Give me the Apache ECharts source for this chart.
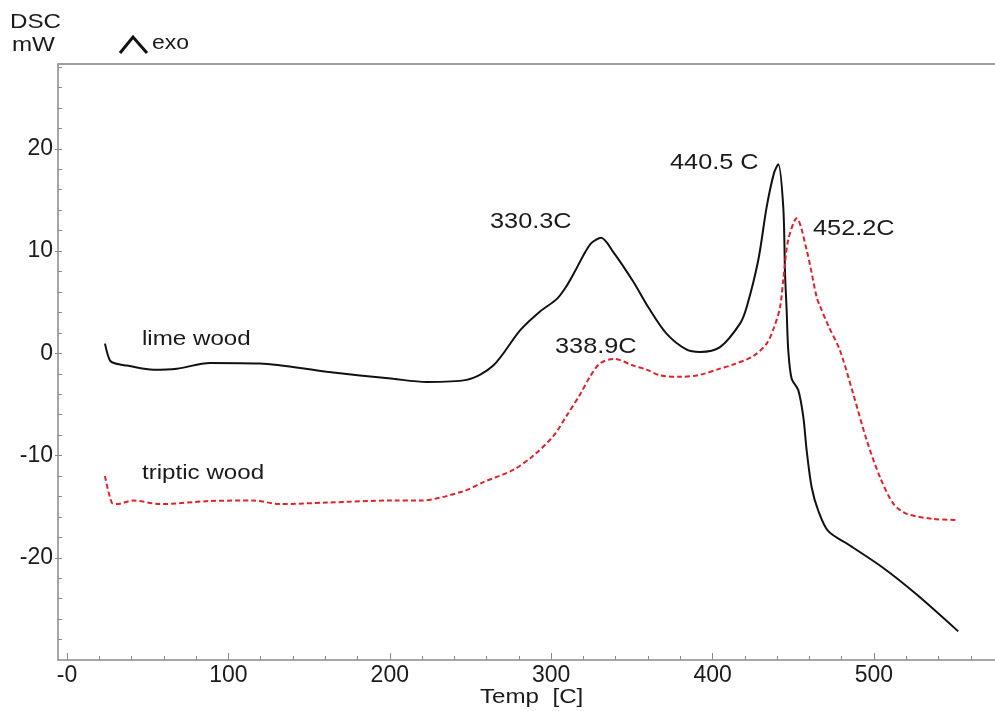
<!DOCTYPE html>
<html>
<head>
<meta charset="utf-8">
<script src="https://cdn.jsdelivr.net/npm/echarts@6/dist/echarts.min.js"></script>
<style>
  html, body { margin: 0; padding: 0; background: #fff; }
  #main { width: 995px; height: 711px; }
</style>
</head>
<body>
<div id="main"></div>
<script>
// lime wood (black, solid)
const limeTemp = [23.5, 26.6, 30, 37, 53.5, 68, 88.6, 119.6, 160.9, 202.2, 222.9, 247.6, 264.1, 280.7, 293.1, 303.4, 309.6, 315, 320, 325, 330.9, 338.5, 350.9, 360.2, 371.6, 384, 392.2, 404.6, 417, 421.1, 428.3, 433.5, 438, 440.7, 443.8, 444.9, 445.9, 446.9, 449, 453.1, 456.2, 458.3, 461.4, 465.5, 471.7, 485.1, 505.8, 526.5, 552.2]
const limeDsc = [0.95, -0.7, -1.0, -1.2, -1.6, -1.5, -0.95, -1.0, -1.8, -2.5, -2.8, -2.6, -1.2, 2.25, 4.1, 5.3, 6.6, 8.1, 9.6, 10.8, 11.3, 9.9, 7.0, 4.5, 1.9, 0.35, 0.13, 0.6, 2.9, 4.5, 9.1, 14.3, 17.6, 18.5, 14.3, 7.8, 4.2, 0.3, -2.5, -3.6, -6.2, -9.5, -13.1, -15.4, -17.4, -18.8, -21.0, -23.6, -27.2]

// triptic wood (red, dashed)
const tripTemp = [23.5, 27.7, 30.8, 41.1, 57.6, 88.6, 115.4, 132, 160.9, 202.2, 218.7, 245.5, 258, 276.5, 289, 301.3, 310, 318, 324, 330.2, 338.9, 350.9, 359.2, 367.4, 379.8, 392.2, 404.6, 412.8, 425, 433.5, 438, 441.8, 443.8, 446.9, 452.1, 458.3, 464.5, 466.6, 472, 478.9, 487.2, 495.5, 503.7, 512, 520.3, 536.8, 552.2]
const tripDsc = [-12.0, -14.6, -14.75, -14.4, -14.75, -14.45, -14.4, -14.75, -14.6, -14.4, -14.4, -13.5, -12.6, -11.4, -10.0, -8.1, -6.0, -4.0, -2.3, -1.0, -0.55, -1.2, -1.6, -2.15, -2.3, -2.1, -1.5, -1.1, -0.3, 0.95, 2.5, 4.5, 7.2, 11.1, 13.2, 10.1, 5.5, 4.6, 2.6, 0.3, -4.0, -8.5, -12.1, -14.7, -15.7, -16.2, -16.3]

// axis ticks
const xTickValues = [0, 100, 200, 300, 400, 500]
const xTickLabels = ['-0', '100', '200', '300', '400', '500']
const xMinorValues = [20, 40, 60, 80, 120, 140, 160, 180, 220, 240, 260, 280, 320, 340, 360, 380, 420, 440, 460, 480, 520, 540, 560]
const yTickValues = [-20, -10, 0, 10, 20]
const yMinorValues = [-28, -26, -24, -22, -20, -18, -16, -14, -12, -10, -8, -6, -4, -2, 0, 2, 4, 6, 8, 10, 12, 14, 16, 18, 20, 22, 24, 26, 28]

const font = 'Liberation Sans, Arial, sans-serif'
const axisGray = '#8a8a8a'

const chart = echarts.init(document.getElementById('main'))

function pairs (xs, ys) {
  return xs.map((x, i) => [x, ys[i]])
}

// text label helper (picture text is a bit wide, so stretch it)
function txt (text, left, top, size) {
  return {
    type: 'text',
    left: left,
    top: top,
    scaleX: 1.15,
    style: { text: text, font: size + 'px ' + font, fill: '#1a1a1a' }
  }
}

const option = {
  animation: false,
  grid: { left: 58, right: 0, top: 64, bottom: 51 },
  xAxis: [
    {
      type: 'value',
      min: -5.6,
      max: 575,
      position: 'bottom',
      splitLine: { show: false },
      axisLine: { onZero: false, lineStyle: { color: axisGray, width: 1.5 } },
      axisTick: { inside: true, length: 7, customValues: xTickValues, lineStyle: { color: axisGray } },
      axisLabel: {
        customValues: xTickValues,
        margin: 4,
        fontSize: 23,
        fontFamily: font,
        color: '#1a1a1a',
        formatter: (v) => xTickLabels[xTickValues.indexOf(v)]
      }
    },
    {
      type: 'value',
      min: -5.6,
      max: 575,
      position: 'bottom',
      splitLine: { show: false },
      axisLine: { show: false, onZero: false },
      axisTick: { inside: true, length: 4, customValues: xMinorValues, lineStyle: { color: axisGray } },
      axisLabel: { show: false }
    },
    {
      type: 'value',
      min: -5.6,
      max: 575,
      position: 'top',
      splitLine: { show: false },
      axisLine: { onZero: false, lineStyle: { color: '#a0a0a0', width: 2 } },
      axisTick: { show: false },
      axisLabel: { show: false }
    }
  ],
  yAxis: [
    {
      type: 'value',
      min: -30,
      max: 28.3,
      position: 'left',
      splitLine: { show: false },
      axisLine: { onZero: false, lineStyle: { color: axisGray, width: 1.5 } },
      axisTick: { inside: false, length: 3, customValues: yTickValues, lineStyle: { color: axisGray } },
      axisLabel: {
        customValues: yTickValues,
        margin: 5,
        fontSize: 23,
        fontFamily: font,
        color: '#1a1a1a'
      }
    },
    {
      type: 'value',
      min: -30,
      max: 28.3,
      position: 'left',
      splitLine: { show: false },
      axisLine: { show: false, onZero: false },
      axisTick: { inside: true, length: 4, customValues: yMinorValues, lineStyle: { color: axisGray } },
      axisLabel: { show: false }
    }
  ],
  series: [
    {
      name: 'lime wood',
      type: 'line',
      xAxisIndex: 0,
      yAxisIndex: 0,
      data: pairs(limeTemp, limeDsc),
      smooth: 0.3,
      showSymbol: false,
      lineStyle: { color: '#111', width: 2 }
    },
    {
      name: 'triptic wood',
      type: 'line',
      xAxisIndex: 0,
      yAxisIndex: 0,
      data: pairs(tripTemp, tripDsc),
      smooth: 0.3,
      showSymbol: false,
      lineStyle: { color: '#e3202c', width: 2, type: [5, 3] }
    }
  ],
  graphic: [
    txt('DSC', 10, 12, 21),
    txt('mW', 12, 35, 21),
    {
      type: 'polyline',
      shape: { points: [[120, 53], [133, 37], [147, 53]] },
      style: { stroke: '#111', lineWidth: 3, fill: null }
    },
    txt('exo', 152, 33, 20),
    txt('330.3C', 490, 211, 22),
    txt('440.5 C', 670, 152, 22),
    txt('452.2C', 813, 218, 22),
    txt('338.9C', 555, 336, 22),
    txt('lime wood', 142, 329, 21),
    txt('triptic wood', 142, 463, 21),
    txt('Temp  [C]', 480, 687, 21)
  ]
}

chart.setOption(option)
</script>
</body>
</html>
